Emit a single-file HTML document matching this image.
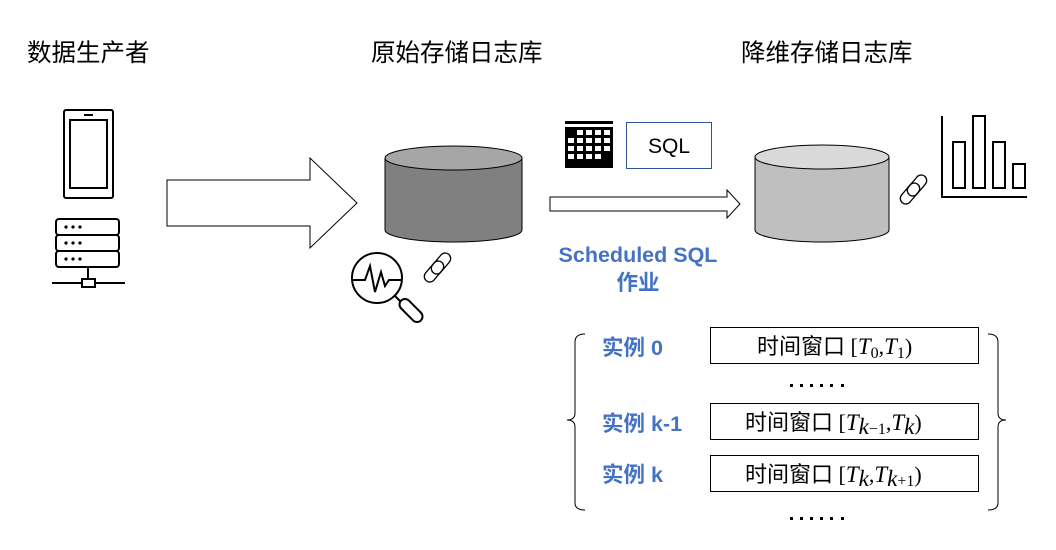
<!DOCTYPE html>
<html><head><meta charset="utf-8"><style>
body{margin:0;background:#fff;width:1056px;height:550px;overflow:hidden}
svg{display:block}
.t{font-family:"Liberation Sans","Noto Sans CJK SC",sans-serif;font-size:24.5px;fill:#000}
.b{font-family:"Liberation Sans","Noto Sans CJK SC",sans-serif;font-size:21.5px;font-weight:bold;fill:#4472c4}
.w{font-family:"Liberation Serif","Noto Sans CJK SC",serif;font-size:22px;fill:#000}
.m{font-family:"Liberation Serif",serif;font-style:italic;font-size:23px}
</style></head><body>
<svg width="1056" height="550" viewBox="0 0 1056 550">
<text class="t" x="27" y="61">数据生产者</text>
<text class="t" x="371" y="61">原始存储日志库</text>
<text class="t" x="741" y="61">降维存储日志库</text>

<!-- phone -->
<rect x="64" y="110" width="49" height="88" rx="2" fill="none" stroke="#000" stroke-width="2"/>
<rect x="70" y="120" width="37" height="68" fill="none" stroke="#000" stroke-width="2"/>
<line x1="84" y1="115" x2="93" y2="115" stroke="#000" stroke-width="2"/>
<!-- server -->
<g fill="none" stroke="#000" stroke-width="2">
<rect x="56" y="219" width="63" height="16" rx="3"/>
<rect x="56" y="235" width="63" height="16" rx="3"/>
<rect x="56" y="251" width="63" height="16" rx="3"/>
<line x1="88" y1="267" x2="88" y2="279"/>
<rect x="82" y="279" width="13" height="8"/>
<line x1="52" y1="283" x2="82" y2="283"/><line x1="95" y1="283" x2="125" y2="283"/>
</g>
<g fill="#000">
<circle cx="66" cy="227" r="1.6"/><circle cx="73" cy="227" r="1.6"/><circle cx="80" cy="227" r="1.6"/>
<circle cx="66" cy="243" r="1.6"/><circle cx="73" cy="243" r="1.6"/><circle cx="80" cy="243" r="1.6"/>
<circle cx="66" cy="259" r="1.6"/><circle cx="73" cy="259" r="1.6"/><circle cx="80" cy="259" r="1.6"/>
</g>

<!-- big arrow -->
<polygon points="167,180 310,180 310,158 357,203 310,248 310,226 167,226" fill="#fff" stroke="#000" stroke-width="1"/>

<!-- cylinder1 -->
<path d="M385,158 L385,230 A68.5,12 0 0 0 522,230 L522,158" fill="#808080" stroke="#000" stroke-width="1"/>
<ellipse cx="453.5" cy="158" rx="68.5" ry="12" fill="#a6a6a6" stroke="#000" stroke-width="1"/>

<!-- magnifier -->
<line x1="394" y1="295" x2="401" y2="302" stroke="#000" stroke-width="2"/>
<rect x="397" y="305" width="28" height="11" rx="5.5" transform="rotate(45 411 310.5)" fill="#fff" stroke="#000" stroke-width="2"/>
<circle cx="377" cy="278" r="25" fill="#fff" stroke="#000" stroke-width="2"/>
<polyline points="352,280 365,280 370,266 375,292 381,272 385,286 389,280 402,280" fill="none" stroke="#000" stroke-width="2"/>
<!-- links -->
<g fill="none" stroke="#000" stroke-width="1.3">
<rect x="422" y="266" width="24" height="11" rx="5.5" transform="rotate(-50 434 271.5)"/>
<rect x="429" y="258" width="24" height="11" rx="5.5" transform="rotate(-50 441 263.5)"/>
<rect x="898" y="188" width="24" height="11" rx="5.5" transform="rotate(-50 910 193.5)"/>
<rect x="905" y="180" width="24" height="11" rx="5.5" transform="rotate(-50 917 185.5)"/>
</g>

<!-- calendar -->
<rect x="565" y="121" width="48" height="3" fill="#000"/>
<rect x="565" y="127" width="48" height="41" fill="#000"/>
<g fill="#fff">
<rect x="577" y="130" width="6" height="5"/><rect x="586" y="130" width="6" height="5"/><rect x="595" y="130" width="6" height="5"/><rect x="604" y="130" width="6" height="5"/>
<rect x="568" y="138" width="6" height="5"/><rect x="577" y="138" width="6" height="5"/><rect x="586" y="138" width="6" height="5"/><rect x="595" y="138" width="6" height="5"/><rect x="604" y="138" width="6" height="5"/>
<rect x="568" y="146" width="6" height="5"/><rect x="577" y="146" width="6" height="5"/><rect x="586" y="146" width="6" height="5"/><rect x="595" y="146" width="6" height="5"/><rect x="604" y="146" width="6" height="5"/>
<rect x="568" y="154" width="6" height="5"/><rect x="577" y="154" width="6" height="5"/><rect x="586" y="154" width="6" height="5"/><rect x="595" y="154" width="6" height="5"/>
</g>
<rect x="626.5" y="122.5" width="85" height="46" fill="#fff" stroke="#2f5597" stroke-width="1"/>
<text x="669" y="153" text-anchor="middle" font-family="Liberation Sans,sans-serif" font-size="21">SQL</text>

<!-- thin arrow -->
<polygon points="550,197 727,197 727,190 740,204 727,218 727,211 550,211" fill="#fff" stroke="#000" stroke-width="1"/>
<text class="b" x="638" y="262" text-anchor="middle">Scheduled SQL</text>
<text class="b" x="638" y="290" text-anchor="middle">作业</text>

<!-- cylinder2 -->
<path d="M755,157 L755,230 A67,12 0 0 0 889,230 L889,157" fill="#bfbfbf" stroke="#000" stroke-width="1"/>
<ellipse cx="822" cy="157" rx="67" ry="12" fill="#d9d9d9" stroke="#000" stroke-width="1"/>

<!-- chart -->
<g fill="none" stroke="#000" stroke-width="2">
<polyline points="942,116 942,197 1027,197"/>
<rect x="953" y="142" width="12" height="46"/>
<rect x="973" y="116" width="12" height="72"/>
<rect x="993" y="142" width="12" height="46"/>
<rect x="1013" y="164" width="12" height="24"/>
</g>

<!-- braces -->
<path d="M585,334 Q575,334 575,342 L575,413 Q575,420 567,420 Q575,420 575,427 L575,503 Q575,510 585,510" fill="none" stroke="#000" stroke-width="1"/>
<path d="M988,334 Q998,334 998,342 L998,413 Q998,420 1006,420 Q998,420 998,427 L998,503 Q998,510 988,510" fill="none" stroke="#000" stroke-width="1"/>

<text class="b" x="602" y="355">实例 0</text>
<text class="b" x="602" y="431">实例 k-1</text>
<text class="b" x="602" y="482">实例 k</text>

<g fill="#fff" stroke="#000" stroke-width="1">
<rect x="710.5" y="327.5" width="268" height="36"/>
<rect x="710.5" y="403.5" width="268" height="36"/>
<rect x="710.5" y="455.5" width="268" height="36"/>
</g>
<text class="w" x="757" y="354">时间窗口 [<tspan class="m">T</tspan><tspan font-size="16" dy="4">0</tspan><tspan dy="-4">,</tspan><tspan class="m">T</tspan><tspan font-size="16" dy="4">1</tspan><tspan dy="-4">)</tspan></text>
<text class="w" x="745" y="430">时间窗口 [<tspan class="m">T</tspan><tspan font-size="16" dy="4" class="m">k</tspan><tspan font-size="16">−1</tspan><tspan dy="-4">,</tspan><tspan class="m">T</tspan><tspan font-size="16" dy="4" class="m">k</tspan><tspan dy="-4">)</tspan></text>
<text class="w" x="745" y="482">时间窗口 [<tspan class="m">T</tspan><tspan font-size="16" dy="4" class="m">k</tspan><tspan dy="-4">,</tspan><tspan class="m">T</tspan><tspan font-size="16" dy="4" class="m">k</tspan><tspan font-size="16">+1</tspan><tspan dy="-4">)</tspan></text>

<g fill="#000">
<rect x="790" y="384" width="3" height="3"/><rect x="800" y="384" width="3" height="3"/><rect x="810" y="384" width="3" height="3"/><rect x="820" y="384" width="3" height="3"/><rect x="830" y="384" width="3" height="3"/><rect x="841" y="384" width="3" height="3"/>
<rect x="790" y="517" width="3" height="3"/><rect x="800" y="517" width="3" height="3"/><rect x="810" y="517" width="3" height="3"/><rect x="820" y="517" width="3" height="3"/><rect x="830" y="517" width="3" height="3"/><rect x="841" y="517" width="3" height="3"/>
</g>
</svg>
</body></html>
